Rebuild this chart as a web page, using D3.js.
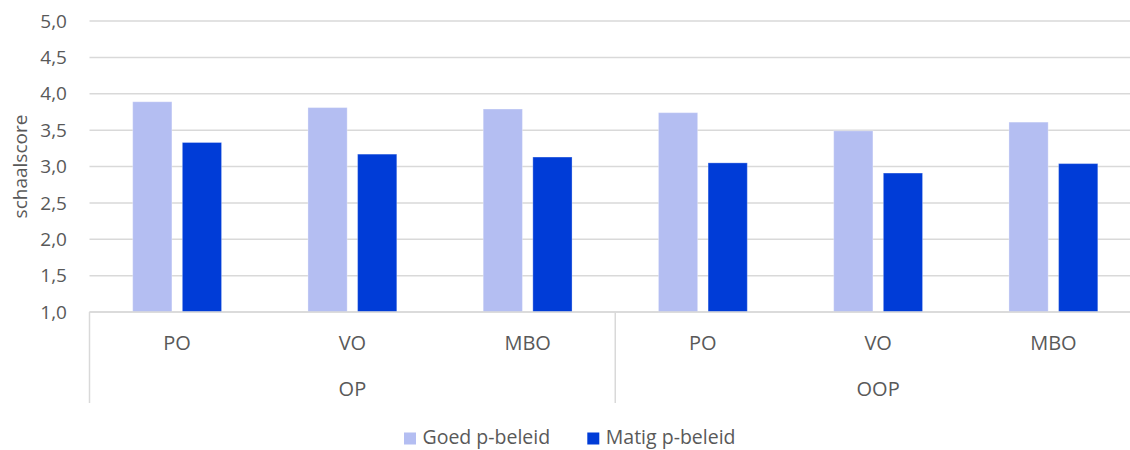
<!DOCTYPE html>
<html>
<head>
<meta charset="utf-8">
<script src="https://cdn.jsdelivr.net/npm/d3@7/dist/d3.min.js"></script>
<style>
  html, body { margin: 0; padding: 0; background: #ffffff; overflow: hidden; }
  svg { display: block; font-family: "Open Sans", "Noto Sans", sans-serif; }
</style>
</head>
<body>
<svg id="chart" width="1130" height="450"></svg>
<script>
// Scale scores per sector and school level
const groups = ["OP", "OOP"];
const levels = ["PO", "VO", "MBO"];
const series = ["Goed p-beleid", "Matig p-beleid"];
const goed  = [3.89, 3.81, 3.79, 3.74, 3.49, 3.61];
const matig = [3.33, 3.17, 3.13, 3.05, 2.91, 3.04];
const yTicks = [1.0, 1.5, 2.0, 2.5, 3.0, 3.5, 4.0, 4.5, 5.0];
const colors = ["#b4bef2", "#003cd7"];

const textColor = "#595959";
const gridColor = "#d9d9d9";

const svg = d3.select("#chart");

const plotLeft = 89.5, plotRight = 1141, plotTop = 21, plotBottom = 312;

// one slot per group/level combination
const cats = [];
groups.forEach(g => levels.forEach(l => cats.push({ group: g, level: l, key: g + "|" + l })));
const values = [goed, matig];

const x0 = d3.scaleBand().domain(cats.map(c => c.key)).range([plotLeft, plotRight]).padding(0);
const bw = x0.bandwidth();
const x1 = d3.scaleBand().domain(series).range([bw * 0.2465, bw * 0.7535]).paddingInner(0.21);
const y = d3.scaleLinear().domain([1, 5]).range([plotBottom, plotTop]);

// horizontal grid
svg.append("g")
  .selectAll("line")
  .data(yTicks)
  .join("line")
  .attr("x1", plotLeft).attr("x2", plotRight)
  .attr("y1", d => y(d)).attr("y2", d => y(d))
  .attr("stroke", gridColor).attr("stroke-width", 1.5);

// y tick labels
const fmt = d => d3.format(".1f")(d).replace(".", ",");
svg.append("g")
  .selectAll("text")
  .data(yTicks)
  .join("text")
  .attr("x", 67).attr("y", d => y(d))
  .attr("dy", "0.35em")
  .attr("text-anchor", "end")
  .attr("fill", textColor)
  .style("font-size", "19px")
  .text(fmt);

// y axis title
svg.append("text")
  .attr("transform", `translate(20,${(plotTop + plotBottom) / 2}) rotate(-90)`)
  .attr("dy", "0.35em")
  .attr("text-anchor", "middle")
  .attr("fill", textColor)
  .style("font-size", "19px")
  .text("schaalscore");

// bars
const barG = svg.append("g");
cats.forEach((c, i) => {
  series.forEach((s, j) => {
    const v = values[j][i];
    barG.append("rect")
      .attr("x", x0(c.key) + x1(s))
      .attr("y", y(v))
      .attr("width", x1.bandwidth())
      .attr("height", y(1) - y(v))
      .attr("fill", colors[j])
      .attr("stroke", "rgba(255,255,255,0.3)")
      .attr("stroke-width", 1);
  });
});

// category axis: baseline and group dividers
const axisBottom = 403;
svg.append("line")
  .attr("x1", plotLeft).attr("x2", plotRight)
  .attr("y1", plotBottom).attr("y2", plotBottom)
  .attr("stroke", gridColor).attr("stroke-width", 1.5);

const groupEdges = [plotLeft];
groups.forEach(g => groupEdges.push(x0(g + "|" + levels[levels.length - 1]) + bw));
svg.append("g")
  .selectAll("line")
  .data(groupEdges)
  .join("line")
  .attr("x1", d => d).attr("x2", d => d)
  .attr("y1", plotBottom).attr("y2", axisBottom)
  .attr("stroke", gridColor).attr("stroke-width", 1.5);

// level labels
svg.append("g")
  .selectAll("text")
  .data(cats)
  .join("text")
  .attr("x", d => x0(d.key) + bw / 2)
  .attr("y", 343)
  .attr("dy", "0.35em")
  .attr("text-anchor", "middle")
  .attr("fill", textColor)
  .style("font-size", "20px")
  .text(d => d.level);

// group labels
svg.append("g")
  .selectAll("text")
  .data(groups)
  .join("text")
  .attr("x", g => (x0(g + "|" + levels[0]) + x0(g + "|" + levels[levels.length - 1]) + bw) / 2)
  .attr("y", 389)
  .attr("dy", "0.35em")
  .attr("text-anchor", "middle")
  .attr("fill", textColor)
  .style("font-size", "20px")
  .text(g => g);

// legend
const legendX = [404, 587.3];
const legend = svg.append("g");
series.forEach((s, j) => {
  legend.append("rect")
    .attr("x", legendX[j]).attr("y", 432.5)
    .attr("width", 12).attr("height", 12)
    .attr("fill", colors[j]);
  legend.append("text")
    .attr("x", legendX[j] + 18.5).attr("y", 437.5)
    .attr("dy", "0.35em")
    .attr("fill", textColor)
    .style("font-size", "19.5px")
    .text(s);
});
</script>
</body>
</html>
